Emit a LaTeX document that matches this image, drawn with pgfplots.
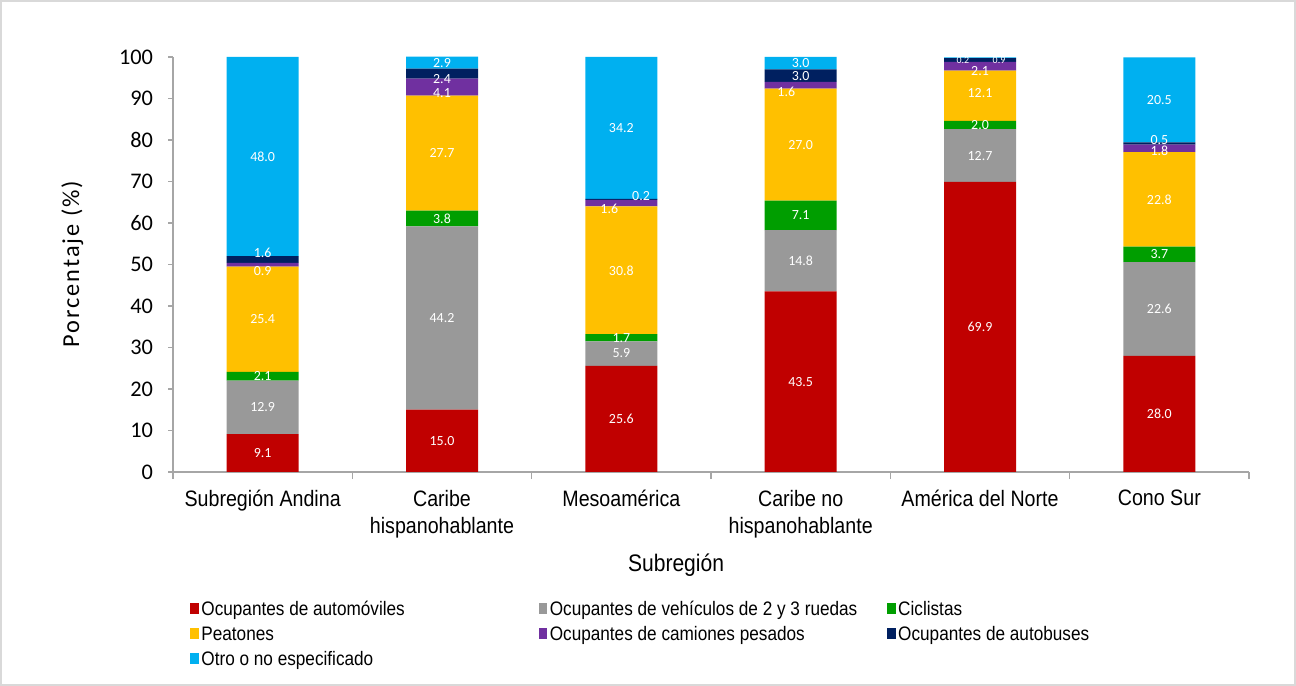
\documentclass[border=0pt]{standalone}
\usepackage{pgfplots}
\usepackage{pgfplotstable}
\pgfplotsset{compat=1.18}
\usepackage{fontspec}
\setmainfont{Carlito}
\newfontfamily\condfont[FakeStretch=0.88]{Liberation Sans}
\definecolor{cAuto}{HTML}{C00000}
\definecolor{cDos}{HTML}{999999}
\definecolor{cCicl}{HTML}{009E00}
\definecolor{cPeat}{HTML}{FFC000}
\definecolor{cCam}{HTML}{7030A0}
\definecolor{cBus}{HTML}{002060}
\definecolor{cOtro}{HTML}{00B0F0}
\definecolor{axgray}{HTML}{A6A6A6}

\pgfplotstableread{
x auto dos cicl peat cam bus otro
0 9.1 12.9 2.1 25.4 0.9 1.6 48.0
1 15.0 44.2 3.8 27.7 4.1 2.4 2.9
2 25.6 5.9 1.7 30.8 1.6 0.2 34.2
3 43.5 14.8 7.1 27.0 1.6 3.0 3.0
4 69.9 12.7 2.0 12.1 2.1 0.9 0.2
5 28.0 22.6 3.7 22.8 1.8 0.5 20.5
}\datatable

\pgfplotstableread{
x y lab
0 4.55 9.1
0 15.55 12.9
0 23.05 2.1
0 36.8 25.4
0 48.4 0.9
0 52.8 1.6
0 76.0 48.0
1 7.5 15.0
1 37.1 44.2
1 61.1 3.8
1 76.85 27.7
1 91.4 4.1
1 94.7 2.4
1 98.6 2.9
2 12.8 25.6
2 28.55 5.9
2 32.35 1.7
2 48.6 30.8
1.933 63.4 1.6
2.11 66.5 0.2
2 82.9 34.2
3 21.75 43.5
3 50.9 14.8
3 61.85 7.1
3 78.9 27.0
2.92 91.6 1.6
3 95.5 3.0
3 98.6 3.0
4 34.95 69.9
4 76.25 12.7
4 83.6 2.0
4 91.3 12.1
4 96.5 2.1
5 14.0 28.0
5 39.3 22.6
5 52.45 3.7
5 65.7 22.8
5 77.5 1.8
5 80.1 0.5
5 89.65 20.5
}\labtable

\pgfplotstableread{
x y lab
3.905 99.3 0.2
4.106 99.3 0.9
}\smalltable

\begin{document}
\begin{tikzpicture}
\useasboundingbox (0,0) rectangle (648bp,343bp);
\draw[color={rgb,255:red,217;green,217;blue,217}, line width=0.6bp] (0.5bp,0.5bp) rectangle (647.5bp,342.5bp);
\begin{axis}[
  at={(86.5bp,107bp)}, anchor=south west,
  scale only axis, width=538bp, height=207.5bp,
  ybar stacked, bar width=36bp,
  xmin=-0.5, xmax=5.5, ymin=0, ymax=100,
  axis lines*=left,
  axis line style={axgray, line width=0.8bp},
  xtick={0,...,5},
  xticklabels={Subregión Andina,{Caribe\\hispanohablante},Mesoamérica,{Caribe no\\hispanohablante},América del Norte,Cono Sur},
  major x tick style={draw=none},
  minor xtick={-0.5,0.5,...,5.5},
  minor x tick style={axgray, line width=0.8bp},
  minor tick length=3.5bp,
  ytick={0,10,...,100},
  y tick style={axgray, line width=0.8bp},
  major tick length=2.5bp,
  tick align=outside,
  xticklabel style={font=\condfont\fontsize{11.2}{13.5}\selectfont, align=center, anchor=north, yshift=-3bp},
  yticklabel style={font=\fontsize{11.2}{13}\selectfont, xshift=-4bp},
  /pgf/number format/assume math mode=true,
  xlabel={Subregión},
  xlabel style={font=\condfont\fontsize{12}{14}\selectfont, at={(axis description cs:0.4675,-0.224)}, anchor=center},
  ylabel={Porcentaje (\%)},
  ylabel style={font=\addfontfeatures{LetterSpace=8}\fontsize{12.2}{14}\selectfont, at={(axis description cs:-0.0935,0.501)}, anchor=center},
  legend columns=3,
  legend style={at={(0.0158,-0.306)}, anchor=north west, draw=none, fill=none,
     inner xsep=0pt, inner ysep=0pt, column sep=0pt, row sep=1.9bp,
     nodes={inner xsep=1.3bp, inner ysep=1bp},
     font=\condfont\fontsize{9.8}{11}\selectfont},
  legend cell align=left,
  legend image code/.code={\fill[#1] (0bp,-1.9bp) rectangle (4.2bp,3.7bp);},
]
\addplot[fill=cAuto, draw=none] table[x=x,y=auto] {\datatable};
\addlegendentry{\makebox[167.4bp][l]{Ocupantes de automóviles}}
\addplot[fill=cDos, draw=none] table[x=x,y=dos] {\datatable};
\addlegendentry{\makebox[167.4bp][l]{Ocupantes de vehículos de 2 y 3 ruedas}}
\addplot[fill=cCicl, draw=none] table[x=x,y=cicl] {\datatable};
\addlegendentry{\makebox[167.4bp][l]{Ciclistas}}
\addplot[fill=cPeat, draw=none] table[x=x,y=peat] {\datatable};
\addlegendentry{\makebox[167.4bp][l]{Peatones}}
\addplot[fill=cCam, draw=none] table[x=x,y=cam] {\datatable};
\addlegendentry{\makebox[167.4bp][l]{Ocupantes de camiones pesados}}
\addplot[fill=cBus, draw=none] table[x=x,y=bus] {\datatable};
\addlegendentry{\makebox[167.4bp][l]{Ocupantes de autobuses}}
\addplot[fill=cOtro, draw=none] table[x=x,y=otro] {\datatable};
\addlegendentry{\makebox[167.4bp][l]{Otro o no especificado}}
\end{axis}
\begin{axis}[
  at={(86.5bp,107bp)}, anchor=south west,
  scale only axis, width=538bp, height=207.5bp,
  xmin=-0.5, xmax=5.5, ymin=0, ymax=100,
  hide axis, clip=false,
]
\addplot[draw=none, mark=none, nodes near coords, point meta=explicit symbolic,
  every node near coord/.append style={anchor=center, text=white, inner sep=0pt, font=\fontsize{7}{8}\selectfont}]
  table[x=x,y=y,meta=lab] {\labtable};
\addplot[draw=none, mark=none, nodes near coords, point meta=explicit symbolic,
  every node near coord/.append style={anchor=center, text=white, inner sep=0pt, font=\fontsize{5}{6}\selectfont}]
  table[x=x,y=y,meta=lab] {\smalltable};
\end{axis}
\end{tikzpicture}
\end{document}
